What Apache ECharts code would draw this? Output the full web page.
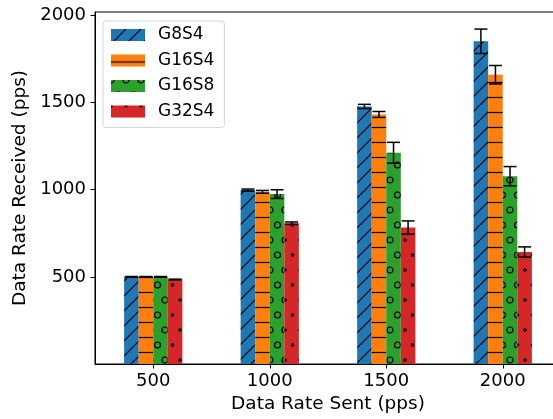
<!DOCTYPE html>
<html>
<head>
<meta charset="utf-8">
<script src="https://cdn.jsdelivr.net/npm/echarts@6/dist/echarts.min.js"></script>
<style>
  html, body { margin: 0; padding: 0; background: #fff; overflow: hidden; }
  /* the plot frame runs past the right edge of the window */
  #chart { width: 600px; height: 419px; }
</style>
</head>
<body>
<div id="chart"></div>
<script>
// Sent rate groups on the x axis
const categories = ['500', '1000', '1500', '2000'];

// Received rate (pps) per configuration, with error half-widths
const seriesNames = ['G8S4', 'G16S4', 'G16S8', 'G32S4'];
const g8s4 = [500, 998, 1478, 1852];
const g8s4Err = [2, 6, 12, 70];
const g16s4 = [500, 988, 1432, 1660];
const g16s4Err = [2, 8, 17, 53];
const g16s8 = [500, 975, 1212, 1078];
const g16s8Err = [2, 25, 60, 55];
const g32s4 = [485, 808, 783, 643];
const g32s4Err = [2, 7, 38, 29];

const yTicks = [500, 1000, 1500, 2000];

const colors = ['#1f77b4', '#ff7f0e', '#2ca02c', '#d62728'];
const hatches = ['/', '-', 'o', '.'];

// Build a repeating hatch tile on a small canvas
function hatchTile(bg, kind) {
  const S = 15;
  const c = document.createElement('canvas');
  const stagger = (kind === 'o' || kind === '.');
  c.width = S;
  c.height = stagger ? 2 * S : S;
  const ctx = c.getContext('2d');
  ctx.fillStyle = bg;
  ctx.fillRect(0, 0, c.width, c.height);
  ctx.strokeStyle = '#000';
  ctx.fillStyle = '#000';
  ctx.lineWidth = 1.2;
  if (kind === '/') {
    ctx.beginPath();
    for (const k of [-S, 0, S]) {
      ctx.moveTo(k, S);
      ctx.lineTo(k + S, 0);
    }
    ctx.stroke();
  } else if (kind === '-') {
    ctx.beginPath();
    ctx.moveTo(0, S / 2);
    ctx.lineTo(S, S / 2);
    ctx.stroke();
  } else {
    const pts = [[0, 0], [S, 0], [0, 2 * S], [S, 2 * S], [S / 2, S]];
    for (const [x, y] of pts) {
      ctx.beginPath();
      if (kind === 'o') {
        ctx.arc(x, y, 3, 0, Math.PI * 2);
        ctx.stroke();
      } else {
        ctx.arc(x, y, 1.8, 0, Math.PI * 2);
        ctx.fill();
      }
    }
  }
  return c;
}

const values = [g8s4, g16s4, g16s8, g32s4];
const errors = [g8s4Err, g16s4Err, g16s8Err, g32s4Err];

const BAR_FRAC = 0.125;
const font = 'DejaVu Sans';

const barSeries = seriesNames.map((name, i) => ({
  name: name,
  type: 'bar',
  data: values[i],
  barWidth: (BAR_FRAC * 100) + '%',
  barGap: '0%',
  itemStyle: {
    color: { image: hatchTile(colors[i], hatches[i]), repeat: 'repeat' }
  },
  emphasis: { disabled: true },
  z: 2
}));

// Error bars: [category index, series index, value, error]
const errData = [];
values.forEach((arr, s) => {
  arr.forEach((v, c) => errData.push([c, s, v, errors[s][c]]));
});

const errSeries = {
  type: 'custom',
  data: errData,
  z: 5,
  silent: true,
  renderItem: function (params, api) {
    const c = api.value(0), s = api.value(1), v = api.value(2), e = api.value(3);
    const band = api.size([1, 0])[0];
    const bw = band * BAR_FRAC;
    const base = api.coord([c, v]);
    const x = base[0] + (s - 1.5) * bw;
    const yTop = api.coord([c, v + e])[1];
    const yBot = api.coord([c, v - e])[1];
    const half = 6.5;
    const st = { stroke: '#000', lineWidth: 1.5 };
    return {
      type: 'group',
      children: [
        { type: 'line', shape: { x1: x, y1: yTop, x2: x, y2: yBot }, style: st },
        { type: 'line', shape: { x1: x - half, y1: yTop, x2: x + half, y2: yTop }, style: st },
        { type: 'line', shape: { x1: x - half, y1: yBot, x2: x + half, y2: yBot }, style: st }
      ]
    };
  }
};

const chart = echarts.init(document.getElementById('chart'), null, { renderer: 'canvas' });
chart.setOption({
  animation: false,
  backgroundColor: '#fff',
  textStyle: { fontFamily: font },
  grid: {
    left: 95, top: 12, width: 466, bottom: 55,
    containLabel: false,
    outerBoundsMode: 'none',
    show: true, borderColor: '#000', borderWidth: 1, backgroundColor: 'transparent'
  },
  legend: {
    orient: 'vertical',
    left: 103, top: 21,
    padding: [4, 10, 6, 8],
    itemGap: 5.5,
    itemWidth: 34, itemHeight: 12,
    icon: 'rect',
    backgroundColor: '#fff',
    borderColor: '#d6d6d6', borderWidth: 1, borderRadius: 3,
    data: seriesNames,
    textStyle: { fontFamily: font, fontSize: 17, color: '#000', lineHeight: 20, padding: [0, 0, 0, 8] }
  },
  xAxis: {
    type: 'category',
    data: categories,
    boundaryGap: true,
    name: 'Data Rate Sent (pps)',
    nameLocation: 'middle',
    nameGap: 30,
    nameTextStyle: { fontFamily: font, fontSize: 18.5, color: '#000' },
    axisLine: { show: true, lineStyle: { color: '#000', width: 1 } },
    axisTick: { show: true, alignWithLabel: true, length: 4.5, lineStyle: { color: '#000' } },
    axisLabel: { fontFamily: font, fontSize: 18, color: '#000', margin: 8 },
    splitLine: { show: false }
  },
  yAxis: {
    type: 'value',
    min: 0, max: 2020, interval: 500,
    name: 'Data Rate Received (pps)',
    nameLocation: 'middle',
    nameGap: 57,
    nameTextStyle: { fontFamily: font, fontSize: 18.5, color: '#000' },
    axisLine: { show: true, lineStyle: { color: '#000', width: 1 } },
    axisTick: { show: true, length: 4.5, lineStyle: { color: '#000' }, customValues: yTicks },
    axisLabel: {
      fontFamily: font, fontSize: 18, color: '#000', margin: 9, customValues: yTicks,
      formatter: v => String(v)
    },
    splitLine: { show: false }
  },
  series: barSeries.concat([errSeries])
});
</script>
</body>
</html>
